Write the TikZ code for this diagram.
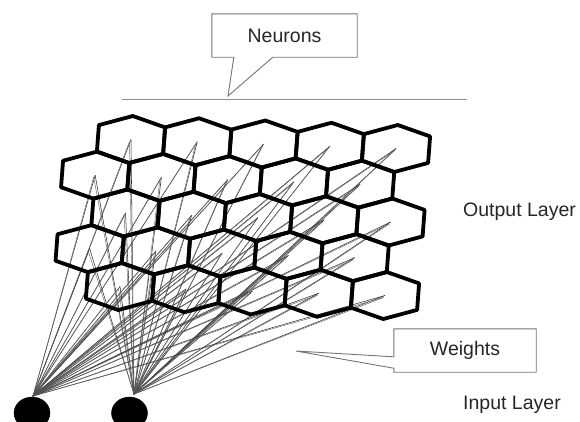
\documentclass[tikz,border=0pt]{standalone}
\usepackage{fontspec}
\setmainfont{Liberation Sans}
\usetikzlibrary{shapes.geometric,calc}
\begin{document}
\begin{tikzpicture}[x=1pt,y=-1pt,
  hexedge/.style={line width=3.8pt, line join=round, line cap=round, black},
  weight/.style={line width=0.55pt, black!80},
  weightb/.style={line width=0.45pt, black!60},
  callout/.style={draw=black!55, line width=0.9pt, line join=miter},
  rule/.style={draw=black!45, line width=1.4pt},
  lbl/.style={font=\fontsize{19.5}{22}\selectfont, text=black!85, inner sep=0pt},
  boxlbl/.style={font=\fontsize{19.5}{22}\selectfont, text=black!85, inner sep=0pt},
  inputnode/.style={ellipse, fill=black, draw=black, minimum width=36pt, minimum height=32pt, inner sep=0pt}]
\useasboundingbox (0,0) rectangle (580,421);

% hexagon centres
\foreach \r in {0,...,4} {
  \foreach \c in {0,...,4} {
    \pgfmathsetmacro{\odd}{mod(\r,2)}
    \pgfmathsetmacro{\cx}{131+66.25*\c-2.75*\r-33.1*\odd}
    \pgfmathsetmacro{\cy}{139.5+2.25*\c+36.75*\r-1.1*\odd}
    \coordinate (h\r\c) at (\cx,\cy);
  }
}

% input neurons
\node[inputnode] (in1) at (32,413) {};
\node[inputnode] (in2) at (129.5,413) {};
\coordinate (w1) at (33,396);
\coordinate (w2) at (134,394);

% weights
\foreach \r in {0,...,4} {
  \foreach \c in {0,...,4} {
    \draw[weight] (w1) -- (h\r\c);
    \draw[weight] (w2) -- (h\r\c);
    \draw[weightb] (w1) -- ([shift={(-1.5,2)}]h\r\c);
    \draw[weightb] (w2) -- ([shift={(-1.5,2)}]h\r\c);
  }
}

% hexagons
\foreach \r in {0,...,4} {
  \foreach \c in {0,...,4} {
    \draw[hexedge] ([shift={(1.76,-23.5)}]h\r\c) -- ([shift={(34.1,-12.1)}]h\r\c)
      -- ([shift={(32.1,14.4)}]h\r\c) -- ([shift={(-1.76,23.5)}]h\r\c)
      -- ([shift={(-34.1,12.1)}]h\r\c) -- ([shift={(-32.1,-14.4)}]h\r\c) -- cycle;
  }
}

% Neurons callout
\node[boxlbl, minimum width=145pt, minimum height=43pt] (neur) at (284.5,35.5) {Neurons};
\coordinate (ntip) at (228,96);
\draw[callout] ($(neur.south west)+(22,0)$) -- (neur.south west) -- (neur.north west)
  -- (neur.north east) -- (neur.south east) -- ($(neur.south west)+(61,0)$) -- (ntip) -- cycle;
\coordinate (rl) at (122,99.5);
\coordinate (rr) at (467,99.5);
\draw[rule] (rl) -- (rr);

% Weights callout
\node[boxlbl, minimum width=142pt, minimum height=43pt] (wts) at (465,350.5) {Weights};
\coordinate (wtip) at (296,351);
\draw[callout] ($(wts.north west)+(0,28)$) -- (wts.north west) -- (wts.north east)
  -- (wts.south east) -- (wts.south west) -- ($(wts.south west)+(0,-4)$) -- (wtip) -- cycle;

% layer labels
\node[lbl, anchor=west] (outl) at (463,212) {Output Layer};
\node[lbl, anchor=west] (inl) at (463,405) {Input Layer};
\end{tikzpicture}
\end{document}
